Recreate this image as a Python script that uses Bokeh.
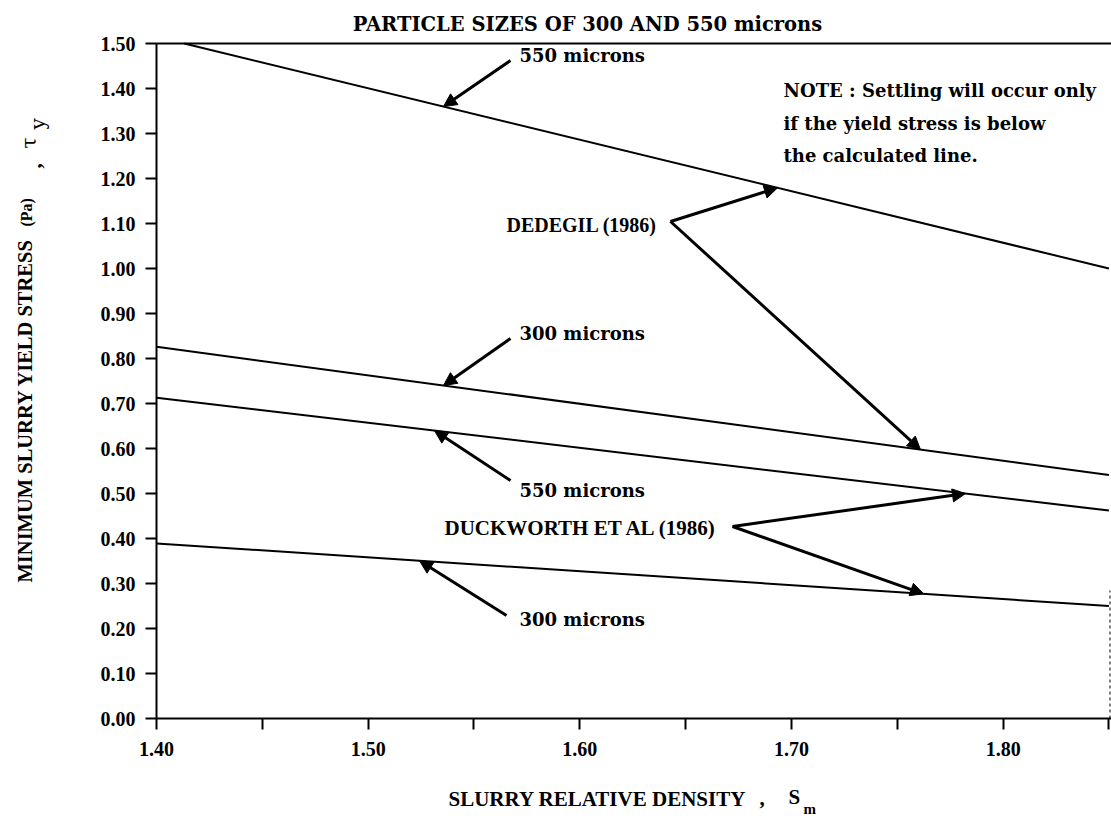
import numpy as np
from bokeh.plotting import figure
from bokeh.models import Range1d, FixedTicker, NumeralTickFormatter, Label, Arrow, NormalHead, LinearAxis
from bokeh.embed import file_html
from bokeh.resources import INLINE

# Slurry relative density at the two ends of each calculated line
density = [1.40, 1.85]

# Minimum slurry yield stress (Pa) needed to keep particles suspended
dedegil_550 = [1.515, 1.000]
dedegil_300 = [0.826, 0.541]
duckworth_550 = [0.713, 0.462]
duckworth_300 = [0.389, 0.250]

y_ticks = [0.0, 0.1, 0.2, 0.3, 0.4, 0.5, 0.6, 0.7, 0.8, 0.9, 1.0, 1.1, 1.2, 1.3, 1.4, 1.5]
x_major = [1.40, 1.50, 1.60, 1.70, 1.80]
x_minor = [1.45, 1.55, 1.65, 1.75, 1.85]

X_MIN, X_MAX = 1.40, 1.8512
Y_MIN, Y_MAX = 0.0, 1.50

SERIF = "Liberation Serif"
WIDE = "DejaVu Serif"

W, H = 1111, 818
# page position of the plotting box
BOX_L, BOX_R, BOX_T, BOX_B = 156, 1111, 43, 718
sx = (X_MAX - X_MIN) / (BOX_R - BOX_L)
sy = (Y_MAX - Y_MIN) / (BOX_B - BOX_T)

x_range = Range1d(X_MIN - BOX_L * sx, X_MAX + (W - BOX_R) * sx)
y_range = Range1d(Y_MIN - (H - BOX_B) * sy, Y_MAX + BOX_T * sy)


def at(px, py):
    """Data coordinates of a page position (pixels from the top-left)."""
    return x_range.start + px * sx, y_range.end - py * sy


p = figure(width=W, height=H, x_range=x_range, y_range=y_range,
           x_axis_location=None, y_axis_location=None,
           output_backend="svg", toolbar_location=None,
           min_border=0)
p.outline_line_color = None
for g in p.grid:
    g.visible = False
p.background_fill_color = "white"
p.border_fill_color = "white"


def style_axis(ax):
    ax.axis_line_width = 2
    ax.axis_line_color = "black"
    ax.major_tick_line_width = 2
    ax.major_tick_line_color = "black"
    ax.major_tick_in = 0
    ax.major_tick_out = 11
    ax.major_label_text_font = SERIF
    ax.major_label_text_font_style = "bold"
    ax.major_label_text_font_size = "20px"
    ax.major_label_text_color = "black"
    ax.formatter = NumeralTickFormatter(format="0.00")


yaxis = LinearAxis(fixed_location=X_MIN, bounds=(Y_MIN, Y_MAX),
                   ticker=FixedTicker(ticks=y_ticks))
style_axis(yaxis)
yaxis.minor_tick_line_color = None
yaxis.major_label_standoff = 10
p.add_layout(yaxis, "left")

xaxis = LinearAxis(fixed_location=Y_MIN, bounds=(X_MIN, X_MAX),
                   ticker=FixedTicker(ticks=x_major, minor_ticks=x_minor))
style_axis(xaxis)
xaxis.minor_tick_in = 0
xaxis.minor_tick_out = 11
xaxis.minor_tick_line_width = 2
xaxis.minor_tick_line_color = "black"
xaxis.major_label_standoff = 12
p.add_layout(xaxis, "below")

# top border of the plotting box, and the faint broken right edge near the bottom
p.line([X_MIN, X_MAX], [Y_MAX, Y_MAX], line_color="black", line_width=2)
edge_x = at(1109.5, 0)[0]
p.line([edge_x, edge_x], [Y_MIN, at(0, 590)[1]], line_color="#555555",
       line_width=1.5, line_dash="3 3")


def draw_line(vals):
    xs, ys = list(density), list(vals)
    if ys[0] > Y_MAX:
        # start where the line enters the plotting box
        xs[0] = float(np.interp(Y_MAX, ys[::-1], xs[::-1]))
        ys[0] = Y_MAX
    p.line(xs, ys, line_color="black", line_width=2)


series = [dedegil_550, dedegil_300, duckworth_550, duckworth_300]
for s in series:
    draw_line(s)


def arrow(tail, tip_px, line_vals):
    x0, y0 = at(*tail)
    x1 = at(tip_px, 0)[0]
    y1 = float(np.interp(x1, density, line_vals))
    p.add_layout(Arrow(end=NormalHead(size=13, fill_color="black", line_color="black", line_width=1),
                       x_start=x0, y_start=y0, x_end=x1, y_end=y1,
                       line_color="black", line_width=3))


def label(pos, text, font=SERIF, size="20px", style="bold", align="left", angle=0.0):
    x, y = at(*pos)
    p.add_layout(Label(x=x, y=y, text=text, text_font=font, text_font_style=style,
                       text_font_size=size, text_align=align, text_baseline="middle",
                       text_color="black", angle=angle))


# size labels with pointers
label((519, 55), "550 microns", font=WIDE, size="18px")
arrow((510, 60), 443, dedegil_550)

label((519, 333), "300 microns", font=WIDE, size="18px")
arrow((510, 338), 443, dedegil_300)

label((519, 490), "550 microns", font=WIDE, size="18px")
arrow((510, 480), 434, duckworth_550)

label((519, 619), "300 microns", font=WIDE, size="18px")
arrow((506, 615), 419, duckworth_300)

# source labels
label((506, 224), "DEDEGIL (1986)")
arrow((670, 221), 777, dedegil_550)
arrow((670, 221), 920, dedegil_300)

label((444, 527), "DUCKWORTH ET AL (1986)", size="21px")
arrow((732, 526), 965, duckworth_550)
arrow((732, 526), 923, duckworth_300)

# note
label((783, 90), "NOTE : Settling will occur only", font=WIDE, size="18px")
label((783, 123), "if the yield stress is below", font=WIDE, size="18px")
label((783, 155), "the calculated line.", font=WIDE, size="18px")

# title
label((587, 24), "PARTICLE SIZES OF 300 AND 550 microns", font=WIDE, size="19.5px", align="center")

# x axis title
label((448, 798), "SLURRY RELATIVE DENSITY", size="21px")
label((759, 797), ",", size="21px")
label((788, 796), "S", size="21px")
label((803, 808), "m", size="15px")

# y axis title
label((24, 582), "MINIMUM SLURRY YIELD STRESS", size="20.5px", angle=np.pi / 2)
label((26, 226), "(Pa)", size="16px", angle=np.pi / 2)
label((33, 168), ",", size="21px", angle=np.pi / 2)
label((28, 148), "τ", font=WIDE, style="normal", angle=np.pi / 2)
label((37, 129), "y", font=WIDE, style="normal", angle=np.pi / 2)

open("out.html", "w").write(file_html(p, INLINE))
